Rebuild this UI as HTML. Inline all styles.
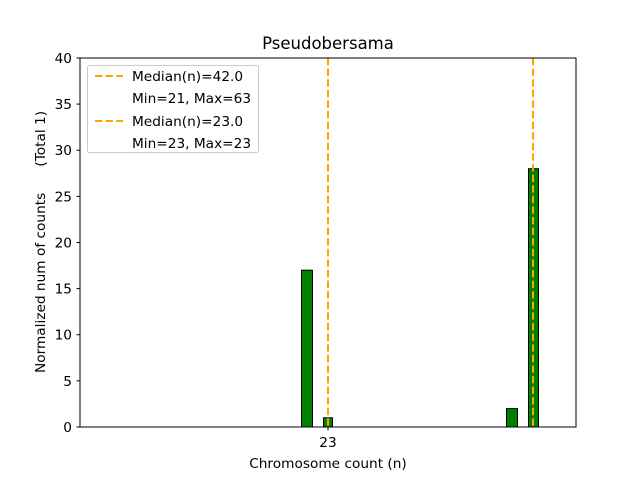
<!DOCTYPE html>
<html><head><style>body{margin:0;background:#fff}svg{display:block}</style></head><body>
<svg width="640" height="480" xmlns="http://www.w3.org/2000/svg" font-family="DejaVu Sans, Liberation Sans, sans-serif">
<rect width="640" height="480" fill="#fff"/>
<text x="328" y="49" font-size="16.5" text-anchor="middle">Pseudobersama</text>
<g fill="#008000" stroke="#000" stroke-width="1">
<rect x="301.5" y="270.2" width="11" height="156.8"/>
<rect x="323.5" y="417.8" width="9" height="9.2"/>
<rect x="506.5" y="408.6" width="11" height="18.4"/>
<rect x="528.5" y="168.7" width="10" height="258.3"/>
</g>
<g stroke="#FFA500" stroke-width="2" stroke-dasharray="7.4,3.2">
<line x1="328" y1="58" x2="328" y2="427"/>
<line x1="533" y1="58" x2="533" y2="427"/>
</g>
<rect x="80" y="58" width="496" height="369" fill="none" stroke="#000" stroke-width="1"/>
<g font-size="13.7" text-anchor="end">
<g stroke="#000"><line x1="76.5" x2="80" y1="427" y2="427"/><line x1="76.5" x2="80" y1="380.9" y2="380.9"/><line x1="76.5" x2="80" y1="334.75" y2="334.75"/><line x1="76.5" x2="80" y1="288.6" y2="288.6"/><line x1="76.5" x2="80" y1="242.5" y2="242.5"/><line x1="76.5" x2="80" y1="196.4" y2="196.4"/><line x1="76.5" x2="80" y1="150.25" y2="150.25"/><line x1="76.5" x2="80" y1="104.1" y2="104.1"/><line x1="76.5" x2="80" y1="58" y2="58"/></g>
<text x="72" y="432">0</text><text x="72" y="385.9">5</text><text x="72" y="339.7">10</text><text x="72" y="293.6">15</text><text x="72" y="247.5">20</text><text x="72" y="201.4">25</text><text x="72" y="155.2">30</text><text x="72" y="109.1">35</text><text x="72" y="63">40</text>
</g>
<line x1="328" x2="328" y1="427" y2="430.5" stroke="#000"/>
<text x="328" y="447" font-size="13.7" text-anchor="middle">23</text>
<text x="328" y="468" font-size="13.7" text-anchor="middle">Chromosome count (n)</text>
<text transform="translate(45,242) rotate(-90)" font-size="13.7" text-anchor="middle">Normalized num of counts&#160;&#160;&#160;&#160;&#160;&#160;(Total 1)</text>
<rect x="87.5" y="65.5" width="171" height="87" rx="2" fill="#fff" fill-opacity="0.8" stroke="#ccc"/>
<g stroke="#FFA500" stroke-width="2" stroke-dasharray="7.4,3.2">
<line x1="95" x2="123" y1="76" y2="76"/><line x1="95" x2="123" y1="121" y2="121"/>
</g>
<g font-size="13.7">
<text x="132" y="81">Median(n)=42.0</text>
<text x="132" y="103">Min=21, Max=63</text>
<text x="132" y="126">Median(n)=23.0</text>
<text x="132" y="148">Min=23, Max=23</text>
</g>
</svg>
</body></html>
